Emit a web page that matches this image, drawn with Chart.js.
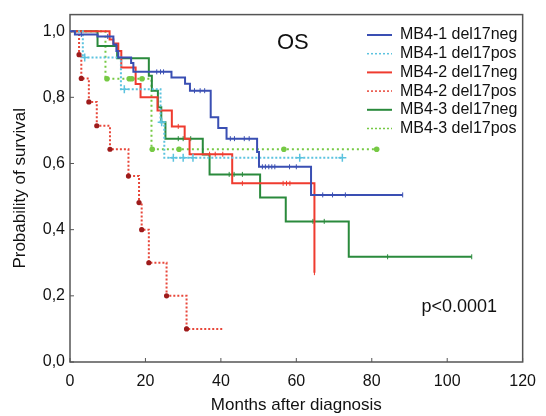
<!DOCTYPE html>
<html>
<head>
<meta charset="utf-8">
<script src="https://cdn.jsdelivr.net/npm/chart.js@4.4.0/dist/chart.umd.min.js"></script>
<style>
  body { margin: 0; background: #fff; }
</style>
</head>
<body>
<canvas id="os-chart" width="546" height="416"></canvas>
<script>
// Kaplan-Meier steps: time (months) where survival drops to the value at the same index
const mb41NegTime = [0, 1.3, 7.3, 11.5, 12.3, 12.8, 16.2, 16.8, 26.9, 30.5, 31.8, 37.3, 39.3, 41.5, 49.6, 50.1, 63.9, 88.2];
const mb41NegSurv = [1.0, 0.99, 0.984, 0.96, 0.94, 0.92, 0.904, 0.877, 0.86, 0.841, 0.82, 0.74, 0.707, 0.675, 0.635, 0.59, 0.505, 0.505];
const mb41NegCens = [3, 10, 23, 24, 24.8, 33, 34.5, 35.7, 42.5, 43.6, 46.2, 47.5, 51, 51.8, 52.7, 53.5, 54.3, 58.2, 60, 67, 69.6, 73, 88.2];

const mb41PosTime = [0, 3.4, 13.5, 24.0, 25.0, 72.2];
const mb41PosSurv = [1.0, 0.92, 0.824, 0.725, 0.617, 0.617];
const mb41PosCens = [3.9, 14.4, 24.3, 27.4, 30.0, 32.6, 60.9, 72.2];

const mb42NegTime = [0, 10.5, 11.5, 12.8, 13.6, 17.4, 18.7, 23.2, 27.0, 30.4, 31.7, 43.0, 64.8];
const mb42NegSurv = [1.0, 0.975, 0.963, 0.94, 0.89, 0.84, 0.80, 0.76, 0.712, 0.675, 0.628, 0.54, 0.27];
const mb42NegCens = [28.7, 37, 38.5, 40.5, 45.7, 56.5, 57.4, 58.3, 64.8];

const mb42PosTime = [0, 2.4, 3.0, 5.0, 7.1, 10.6, 15.5, 18.3, 19.0, 20.9, 25.6, 30.9, 40.5];
const mb42PosSurv = [1.0, 0.929, 0.857, 0.786, 0.714, 0.643, 0.562, 0.482, 0.40, 0.30, 0.20, 0.10, 0.10];

const mb43NegTime = [0, 7.3, 12.5, 20.9, 21.7, 23.3, 24.2, 25.3, 35.2, 37.0, 50.4, 57.2, 73.9, 106.5];
const mb43NegSurv = [1.0, 0.955, 0.918, 0.865, 0.82, 0.77, 0.725, 0.675, 0.627, 0.567, 0.497, 0.425, 0.318, 0.318];
const mb43NegCens = [28.7, 30, 32, 42.2, 43.5, 45.7, 64.4, 67.4, 84.2, 106.5];

const mb43PosTime = [0, 9.4, 21.6, 81.3];
const mb43PosSurv = [1.0, 0.856, 0.643, 0.643];
const mb43PosCens = [9.8, 15.7, 16.4, 19.1, 21.8, 28.9, 56.7, 81.3];

const seriesLabels = ['MB4-1 del17neg', 'MB4-1 del17pos', 'MB4-2 del17neg', 'MB4-2 del17pos', 'MB4-3 del17neg', 'MB4-3 del17pos'];
const xTicks = [0, 20, 40, 60, 80, 100, 120];
const yTicks = [0, 0.2, 0.4, 0.6, 0.8, 1.0];

const BLUE = '#3a4fb3';
const CYAN = '#5cc3df';
const RED = '#ef3b2f';
const RED_DOT = '#e8473a';
const DARK_RED = '#9e1b1b';
const GREEN = '#2a8a3c';
const LIGHT_GREEN = '#76c944';
const FONT = '"Liberation Sans", Arial, sans-serif';

function toPoints(times, surv) {
    return times.map((t, i) => ({ x: t, y: surv[i] }));
}

// survival value of a curve at time t (for placing censor marks on the curve)
function survAt(times, surv, t) {
    let value = surv[0];
    times.forEach((time, i) => { if (time <= t) value = surv[i]; });
    return value;
}

function censorPoints(times, surv, cens) {
    return cens.map(t => ({ x: t, y: survAt(times, surv, t) }));
}

function curve(label, times, surv, color, dash) {
    return {
        label,
        data: toPoints(times, surv),
        borderColor: color,
        borderWidth: 2,
        borderDash: dash || [],
        stepped: 'before',
        pointRadius: 0,
        fill: false,
        clip: false
    };
}

function marks(data, color, style, radius, width) {
    return {
        data,
        showLine: false,
        pointStyle: style,
        pointRadius: radius,
        pointRotation: style === 'line' ? 90 : 0,
        borderColor: color,
        backgroundColor: color,
        pointBorderWidth: width,
        clip: false
    };
}

const redDotted = curve(seriesLabels[3], mb42PosTime, mb42PosSurv, RED_DOT, [2, 2]);
redDotted.pointRadius = mb42PosTime.map((t, i) => (i === 0 || i === mb42PosTime.length - 1) ? 0 : 2.6);
redDotted.pointBackgroundColor = DARK_RED;
redDotted.pointBorderColor = DARK_RED;
redDotted.pointBorderWidth = 0;

const datasets = [
    curve(seriesLabels[0], mb41NegTime, mb41NegSurv, BLUE),
    marks(censorPoints(mb41NegTime, mb41NegSurv, mb41NegCens), BLUE, 'line', 2.5, 1),
    curve(seriesLabels[1], mb41PosTime, mb41PosSurv, CYAN, [2, 2]),
    marks(censorPoints(mb41PosTime, mb41PosSurv, mb41PosCens), CYAN, 'cross', 4, 1.5),
    curve(seriesLabels[2], mb42NegTime, mb42NegSurv, RED),
    marks(censorPoints(mb42NegTime, mb42NegSurv, mb42NegCens), RED, 'line', 2.5, 1),
    redDotted,
    curve(seriesLabels[4], mb43NegTime, mb43NegSurv, GREEN),
    marks(censorPoints(mb43NegTime, mb43NegSurv, mb43NegCens), GREEN, 'line', 2.5, 1),
    curve(seriesLabels[5], mb43PosTime, mb43PosSurv, LIGHT_GREEN, [2, 3]),
    marks(censorPoints(mb43PosTime, mb43PosSurv, mb43PosCens), LIGHT_GREEN, 'circle', 2.8, 0)
];

const legendItems = [
    { color: BLUE, dash: [] },
    { color: CYAN, dash: [2, 2] },
    { color: RED, dash: [] },
    { color: RED_DOT, dash: [2, 2] },
    { color: GREEN, dash: [] },
    { color: LIGHT_GREEN, dash: [2, 2] }
];

// frame, inward ticks, legend and annotations
const overlayPlugin = {
    id: 'overlay',
    beforeDatasetsDraw(chart) {
        const { ctx, chartArea: a, scales } = chart;
        ctx.save();
        ctx.strokeStyle = '#555';
        ctx.lineWidth = 1.5;
        ctx.strokeRect(a.left, a.top, a.right - a.left, a.bottom - a.top);
        ctx.lineWidth = 1;
        xTicks.forEach(v => {
            const x = scales.x.getPixelForValue(v);
            ctx.beginPath();
            ctx.moveTo(x, a.bottom);
            ctx.lineTo(x, a.bottom - 4);
            ctx.stroke();
        });
        yTicks.forEach(v => {
            const y = scales.y.getPixelForValue(v);
            ctx.beginPath();
            ctx.moveTo(a.left, y);
            ctx.lineTo(a.left + 4, y);
            ctx.stroke();
        });
        ctx.restore();
    },
    afterDraw(chart) {
        const { ctx } = chart;
        ctx.save();
        ctx.textBaseline = 'middle';
        ctx.fillStyle = '#111';
        ctx.font = '16px ' + FONT;
        seriesLabels.forEach((label, i) => {
            const y = 35 + i * 18.7;
            ctx.strokeStyle = legendItems[i].color;
            ctx.lineWidth = legendItems[i].dash.length ? 1.5 : 2;
            ctx.setLineDash(legendItems[i].dash);
            ctx.beginPath();
            ctx.moveTo(367, y);
            ctx.lineTo(392, y);
            ctx.stroke();
            ctx.setLineDash([]);
            ctx.fillText(label, 400, y);
        });
        ctx.font = '22px ' + FONT;
        ctx.fillText('OS', 277, 43);
        ctx.font = '18px ' + FONT;
        ctx.textAlign = 'right';
        ctx.fillText('p<0.0001', 497, 307);
        ctx.restore();
    }
};

const osChart = new Chart(document.getElementById('os-chart'), {
    type: 'line',
    data: { datasets },
    options: {
        responsive: false,
        animation: false,
        layout: { padding: { top: 11, right: 16, left: 0, bottom: 0 } },
        plugins: {
            legend: { display: false },
            tooltip: { enabled: false }
        },
        scales: {
            x: {
                type: 'linear',
                min: 0,
                max: 120,
                grid: { display: false, drawTicks: false },
                border: { display: false },
                ticks: {
                    stepSize: 20,
                    padding: 10,
                    color: '#111',
                    font: { family: FONT, size: 16 },
                    maxRotation: 0
                },
                title: {
                    display: true,
                    text: 'Months after diagnosis',
                    color: '#111',
                    font: { family: FONT, size: 17 },
                    padding: { top: 0, bottom: 0 }
                },
                afterFit(scale) { scale.height = 54; }
            },
            y: {
                type: 'linear',
                min: 0,
                max: 1.05,
                grid: { display: false, drawTicks: false },
                border: { display: false },
                ticks: {
                    stepSize: 0.2,
                    includeBounds: false,
                    padding: 5,
                    color: '#111',
                    font: { family: FONT, size: 16 },
                    callback: value => value.toFixed(1).replace('.', ',')
                },
                title: {
                    display: true,
                    text: 'Probability of survival',
                    color: '#111',
                    font: { family: FONT, size: 17 },
                    padding: { top: 10, bottom: 0 }
                },
                afterFit(scale) { scale.width = 70; }
            }
        }
    },
    plugins: [overlayPlugin]
});
</script>
</body>
</html>
